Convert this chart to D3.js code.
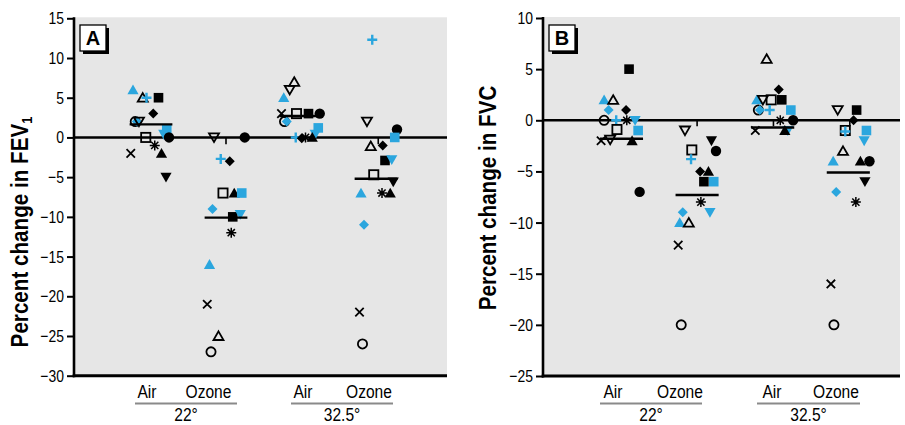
<!DOCTYPE html>
<html><head><meta charset="utf-8">
<script src="https://cdn.jsdelivr.net/npm/d3@7"></script>
<style>body{margin:0;background:#fff;} svg{display:block;}</style>
</head><body>
<svg id="chart" width="905" height="425"></svg>
<script>
// ---------- data ----------
const groups = ["Air 22°", "Ozone 22°", "Air 32.5°", "Ozone 32.5°"];
const exposureLabels = ["Air", "Ozone", "Air", "Ozone"];
const temperatureLabels = ["22°", "32.5°"];
const yTicksFEV = [15, 10, 5, 0, -5, -10, -15, -20, -25, -30];
const yTicksFVC = [10, 5, 0, -5, -10, -15, -20, -25];

// each entry: [subject marker, percent change, jitter within group (group units)]
const fevAir22 = [
  ["ct", 6, -0.24], ["ot", 5, -0.11], ["cp", 5, -0.06], ["fs", 5, 0.10], ["fd", 3, 0.03],
  ["oc", 2, -0.21], ["cd", 2, -0.19], ["oi", 2, -0.16], ["cs", 1, 0.21], ["ci", 0.4, 0.17],
  ["os", 0, -0.07], ["fc", 0, 0.24], ["as", -1, 0.05], ["x", -2, -0.27], ["ft", -2, 0.14],
  ["fi", -5, 0.20]
];
const fevOzone22 = [
  ["oi", 0, -0.16], ["tk", -0.1, 0.0], ["fc", 0, 0.25], ["cp", -2.7, -0.07], ["fd", -3, 0.05],
  ["os", -7, -0.04], ["ft", -7, 0.11], ["cs", -7, 0.21], ["cd", -9, -0.18], ["fs", -10, 0.09],
  ["ci", -9.7, 0.19], ["as", -12, 0.07], ["ct", -16, -0.22], ["x", -21, -0.25], ["ot", -25, -0.10],
  ["oc", -27, -0.20]
];
const fevAir32 = [
  ["ot", 7, -0.09], ["oi", 6, -0.15], ["ct", 5, -0.23], ["x", 3, -0.26], ["os", 3, -0.06],
  ["fs", 3, 0.10], ["fc", 3, 0.25], ["oc", 2, -0.22], ["cd", 2, -0.19], ["cs", 1.2, 0.23],
  ["ci", 0.4, 0.19], ["ft", 0, 0.15], ["cp", 0, -0.07], ["as", 0, 0.06], ["fd", -0.1, 0.01]
];
const fevOzone32 = [
  ["cp", 12.3, -0.05], ["oi", 2, -0.12], ["fc", 1, 0.28], ["cs", 0, 0.25], ["ot", -1.1, -0.07],
  ["fd", -1, 0.09], ["tk", -0.1, 0.03], ["fs", -2.9, 0.12], ["ci", -2.8, 0.21], ["os", -4.7, -0.03],
  ["fi", -5.6, 0.23], ["as", -7, 0.08], ["ft", -7, 0.19], ["ct", -7, -0.20], ["cd", -11, -0.16],
  ["x", -22, -0.22], ["oc", -26, -0.18]
];
const fevMeans = [1.65, -10.1, 2.7, -5.2];

const fvcAir22 = [
  ["fs", 5, 0.10], ["ct", 2, -0.23], ["ot", 2, -0.11], ["cd", 1, -0.17], ["fd", 1, 0.06],
  ["oc", 0, -0.23], ["cp", 0, -0.07], ["as", 0, 0.07], ["ci", 0, 0.18], ["cs", -1, 0.22],
  ["os", -0.9, -0.06], ["x", -2, -0.27], ["oi", -1.9, -0.15], ["ft", -2, 0.14], ["fc", -7, 0.24]
];
const fvcOzone22 = [
  ["oi", -1, -0.16], ["tk", 0, 0.0], ["fi", -2, 0.19], ["fc", -3, 0.25], ["os", -2.9, -0.07],
  ["cp", -3.8, -0.08], ["fd", -5, 0.04], ["ft", -5, 0.15], ["fs", -6, 0.09], ["cs", -6, 0.22],
  ["as", -8, 0.05], ["ci", -9, 0.17], ["cd", -9, -0.19], ["ct", -10, -0.23], ["ot", -10, -0.11],
  ["x", -12.2, -0.25], ["oc", -20, -0.21]
];
const fvcAir32 = [
  ["ot", 6, -0.08], ["fd", 3, 0.08], ["ct", 2, -0.21], ["oi", 2, -0.13], ["os", 2, -0.02],
  ["fs", 2, 0.12], ["oc", 1, -0.19], ["cd", 1, -0.17], ["cp", 1, -0.04], ["cs", 1, 0.24],
  ["as", 0, 0.10], ["fc", 0, 0.27], ["tk", 0, 0.01], ["x", -1, -0.23], ["ci", -1, 0.20],
  ["ft", -1, 0.16]
];
const fvcOzone32 = [
  ["oi", 1, -0.14], ["fs", 1, 0.11], ["fd", 0, 0.07], ["tk", 0, 0.02], ["os", -1, -0.04],
  ["cp", -1.1, -0.04], ["cs", -1, 0.24], ["ci", -2, 0.21], ["ot", -3, -0.07], ["ct", -4, -0.20],
  ["ft", -4, 0.16], ["fc", -4, 0.28], ["fi", -6, 0.22], ["cd", -7, -0.16], ["as", -8, 0.10],
  ["x", -16, -0.23], ["oc", -20, -0.19]
];
const fvcMeans = [-1.8, -7.3, -0.7, -5.1];

// ---------- layout ----------
const CYAN = "#2ba6de";
const FONT = "'Liberation Sans', Arial, sans-serif";
const COND = 0.82; // horizontal squeeze to imitate a condensed face
const svg = d3.select("#chart");

const panels = [
  {
    letter: "A", ticks: yTicksFEV, domain: [-30, 15], data: [fevAir22, fevOzone22, fevAir32, fevOzone32], means: fevMeans,
    left: 74, right: 447, top: 18.3, bottom: 375.7, c1: 151, c4: 376,
    labelX: [147, 208.5, 303, 369], underline: [[135, 237], [291, 393]],
    titleX: 22, titleY: 232, title: "FEV"
  },
  {
    letter: "B", ticks: yTicksFVC, domain: [-25, 10], data: [fvcAir22, fvcOzone22, fvcAir32, fvcOzone32], means: fvcMeans,
    left: 543, right: 900, top: 18, bottom: 376, c1: 621.5, c4: 848.3,
    labelX: [613, 680, 772, 836], underline: [[600, 702], [757, 860]],
    titleX: 490, titleY: 198, title: "FVC"
  }
];

function condText(parent, x, y, txt, opts) {
  const g = parent.append("g").attr("transform", `translate(${x},${y})`);
  const t = g.append("text").attr("transform", `scale(${COND},1)`)
    .attr("text-anchor", opts.anchor || "middle")
    .attr("font-family", FONT).attr("font-size", opts.size).attr("fill", "#000")
    .attr("font-weight", opts.weight || "normal");
  if (opts.baseline) t.attr("dominant-baseline", opts.baseline);
  t.text(txt);
  return t;
}

function markerPath(g, m) {
  const sw = 1.8;
  switch (m) {
    case "oc": g.append("circle").attr("r", 4.6).attr("fill", "none").attr("stroke", "#000").attr("stroke-width", sw); break;
    case "os": g.append("rect").attr("x", -4.6).attr("y", -4.6).attr("width", 9.2).attr("height", 9.2).attr("fill", "none").attr("stroke", "#000").attr("stroke-width", sw); break;
    case "ot": g.append("path").attr("d", "M0,-4.6L5,4L-5,4Z").attr("fill", "none").attr("stroke", "#000").attr("stroke-width", sw); break;
    case "oi": g.append("path").attr("d", "M0,4.6L5,-4L-5,-4Z").attr("fill", "none").attr("stroke", "#000").attr("stroke-width", sw); break;
    case "x": g.append("path").attr("d", "M-4.2,-4.2L4.2,4.2M-4.2,4.2L4.2,-4.2").attr("stroke", "#000").attr("stroke-width", sw); break;
    case "as": g.append("path").attr("d", "M0,-5L0,5M-5,0L5,0M-3.6,-3.6L3.6,3.6M-3.6,3.6L3.6,-3.6").attr("stroke", "#000").attr("stroke-width", 1.5); break;
    case "fc": g.append("circle").attr("r", 5.2).attr("fill", "#000"); break;
    case "fs": g.append("rect").attr("x", -4.8).attr("y", -4.8).attr("width", 9.6).attr("height", 9.6).attr("fill", "#000"); break;
    case "ft": g.append("path").attr("d", "M0,-5.4L5.6,4.4L-5.6,4.4Z").attr("fill", "#000"); break;
    case "fi": g.append("path").attr("d", "M0,5.4L5.6,-4.4L-5.6,-4.4Z").attr("fill", "#000"); break;
    case "fd": g.append("path").attr("d", "M0,-5L5,0L0,5L-5,0Z").attr("fill", "#000"); break;
    case "ct": g.append("path").attr("d", "M0,-5.4L5.6,4.4L-5.6,4.4Z").attr("fill", CYAN); break;
    case "ci": g.append("path").attr("d", "M0,5.4L5.6,-4.4L-5.6,-4.4Z").attr("fill", CYAN); break;
    case "cs": g.append("rect").attr("x", -4.8).attr("y", -4.8).attr("width", 9.6).attr("height", 9.6).attr("fill", CYAN); break;
    case "cd": g.append("path").attr("d", "M0,-5L5,0L0,5L-5,0Z").attr("fill", CYAN); break;
    case "cp": g.append("path").attr("d", "M0,-5L0,5M-5,0L5,0").attr("stroke", CYAN).attr("stroke-width", 2.4); break;
    case "tk": g.append("path").attr("d", "M0,-1L0,6").attr("stroke", "#000").attr("stroke-width", 1.6); break;
  }
}

panels.forEach(p => {
  const y = d3.scaleLinear().domain(p.domain).range([p.bottom, p.top]);
  const x = d3.scaleLinear().domain([1, 4]).range([p.c1, p.c4]);
  const g = svg.append("g");

  // plot background
  g.append("rect").attr("x", p.left).attr("y", p.top - 1).attr("width", p.right - p.left).attr("height", p.bottom - p.top + 1)
    .attr("fill", "#e6e6e6");

  // zero line
  g.append("line").attr("x1", p.left).attr("x2", p.right).attr("y1", y(0)).attr("y2", y(0))
    .attr("stroke", "#000").attr("stroke-width", 2.4);

  // y axis (tick marks via d3 axis, labels condensed)
  const axis = d3.axisLeft(y).tickValues(p.ticks).tickSize(7).tickFormat("");
  const ax = g.append("g").attr("transform", `translate(${p.left},0)`).call(axis);
  ax.select(".domain").remove();
  ax.selectAll(".tick line").attr("stroke", "#000").attr("stroke-width", 2);
  p.ticks.forEach(v => {
    condText(g, p.left - 10, y(v), v < 0 ? "\u2212" + Math.abs(v) : String(v),
      { size: 17, anchor: "end", baseline: "central" });
  });
  g.append("line").attr("x1", p.left).attr("x2", p.left).attr("y1", p.top - 1).attr("y2", p.bottom + 1.5)
    .attr("stroke", "#000").attr("stroke-width", 2.6);
  g.append("line").attr("x1", p.left - 1.3).attr("x2", p.right).attr("y1", p.bottom).attr("y2", p.bottom)
    .attr("stroke", "#000").attr("stroke-width", 3);

  // points
  p.data.forEach((arr, gi) => {
    arr.forEach(([m, v, dx]) => {
      const mg = g.append("g").attr("transform", `translate(${x(gi + 1 + dx)},${y(v)})`);
      markerPath(mg, m);
    });
  });

  // mean lines
  g.selectAll(".mean").data(p.means).join("line")
    .attr("x1", (d, i) => x(i + 1 - 0.285)).attr("x2", (d, i) => x(i + 1 + 0.285))
    .attr("y1", d => y(d)).attr("y2", d => y(d))
    .attr("stroke", "#000").attr("stroke-width", 2.4);

  // group labels
  exposureLabels.forEach((t, i) => {
    condText(g, p.labelX[i], 398, t, { size: 19 });
  });
  temperatureLabels.forEach((t, i) => {
    const [a, b] = p.underline[i];
    g.append("line").attr("x1", a).attr("x2", b).attr("y1", 403.5).attr("y2", 403.5)
      .attr("stroke", "#8a8a8a").attr("stroke-width", 2);
    condText(g, (a + b) / 2, 421, t, { size: 19 });
  });

  // y title
  const tg = g.append("g").attr("transform", `translate(${p.titleX},${p.titleY}) rotate(-90)`);
  const tt = tg.append("text").attr("transform", `scale(0.86,1)`)
    .attr("text-anchor", "middle").attr("dominant-baseline", "middle")
    .attr("font-family", FONT).attr("font-weight", "bold").attr("font-size", 24).attr("fill", "#000");
  tt.append("tspan").text("Percent change in " + p.title);
  if (p.title === "FEV") tt.append("tspan").attr("font-size", 15).attr("dy", 6).text("1");

  // panel letter box
  const bx = p.left + 6, by = 25;
  g.append("rect").attr("x", bx + 3).attr("y", by + 3).attr("width", 26).attr("height", 26).attr("fill", "#000");
  g.append("rect").attr("x", bx).attr("y", by).attr("width", 26).attr("height", 26).attr("fill", "#fff")
    .attr("stroke", "#000").attr("stroke-width", 1.3);
  g.append("text").attr("x", bx + 13).attr("y", by + 20).attr("text-anchor", "middle")
    .attr("font-family", FONT).attr("font-weight", "bold").attr("font-size", 20).text(p.letter);
});
</script>
</body></html>
